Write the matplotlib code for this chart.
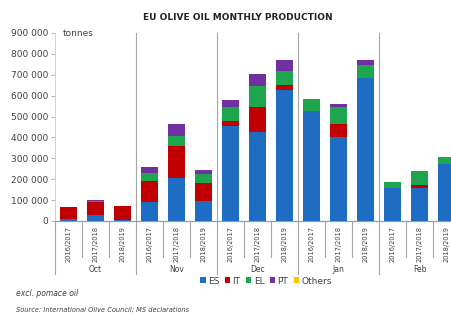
import numpy as np
import matplotlib
matplotlib.use("Agg")
import matplotlib.pyplot as plt
import matplotlib.transforms as mtransforms
from matplotlib.ticker import FuncFormatter

# === DATA (tonnes) ===
months = ["Oct", "Nov", "Dec", "Jan", "Feb"]
years = ["2016/2017", "2017/2018", "2018/2019"]
ES = [10000, 28000, 5000, 92000, 207000, 97000, 455000, 424000, 627000, 528000, 403000, 683000, 156000, 156000, 273000]
IT = [55000, 65000, 67000, 101000, 152000, 83000, 25000, 123000, 24000, 0, 61000, 0, 0, 16000, 0]
EL = [0, 3000, 0, 38000, 49000, 45000, 64000, 100000, 67000, 56000, 83000, 62000, 31000, 67000, 32000]
PT = [0, 4000, 0, 26000, 56000, 18000, 35000, 58000, 52000, 0, 14000, 25000, 0, 0, 0]
OTHERS = [0] * 15

series = [("ES", ES, "#1f6dc2"), ("IT", IT, "#c00000"), ("EL", EL, "#1ea64e"),
          ("PT", PT, "#7030a0"), ("Others", OTHERS, "#ffc000")]

GRAY = "#404040"
LINE = "#a6a6a6"

fig = plt.figure(figsize=(4.52, 3.15), dpi=100, facecolor="white")
ax = fig.add_axes([55 / 452, 1 - 221 / 315, 1 - 55 / 452, (221 - 33) / 315])

x = np.arange(len(ES))
bottom = np.zeros(len(ES))
for name, vals, col in series:
    v = np.array(vals, dtype=float)
    ax.bar(x, v, 0.63, bottom=bottom, color=col, label=name, zorder=3)
    bottom += v

ax.set_ylim(0, 900000)
ax.set_xlim(-0.5, 14.2)
ax.set_yticks(np.arange(0, 900001, 100000))
ax.yaxis.set_major_formatter(FuncFormatter(lambda v, p: f"{int(v):,}".replace(",", " ")))
ax.tick_params(axis="y", labelsize=6.5, labelcolor=GRAY, color=LINE, length=3, width=0.6, pad=2)
ax.set_xticks([])
for s in ["top", "right"]:
    ax.spines[s].set_visible(False)
ax.spines["left"].set_color("#d0d0d0")
ax.spines["left"].set_linewidth(0.7)
ax.spines["bottom"].set_color("#8fa0b5")
ax.spines["bottom"].set_linewidth(0.9)

# month separators in the plot area
for sep in [2.5, 5.5, 8.5, 11.5]:
    ax.axvline(sep, color=LINE, lw=0.8, zorder=1)

# multi-level category axis below the plot
tr = mtransforms.blended_transform_factory(ax.transData, ax.transAxes)
for i in range(len(ES)):
    ax.text(x[i], -0.025, years[i % 3], transform=tr, rotation=90, ha="center", va="top",
            fontsize=4.8, color=GRAY, clip_on=False)
for i in range(len(ES) + 1):
    pos = i - 0.5
    if pos > 14.2:
        continue
    low = -0.28 if i % 3 == 0 else -0.19
    ax.plot([pos, pos], [0, low], transform=tr, color=LINE, lw=0.8, clip_on=False)
for m, name in enumerate(months):
    ax.text(3 * m + 1, -0.26, name, transform=tr, ha="center", va="center",
            fontsize=5.5, color=GRAY, clip_on=False)

ax.text(0.02, 1.0, "tonnes", transform=ax.transAxes, fontsize=6.5, color=GRAY, va="center")

fig.text(238 / 452, 1 - 17 / 315, "EU OLIVE OIL MONTHLY PRODUCTION", ha="center", va="center",
         fontsize=6.5, fontweight="bold", color="#222222")

ax.legend(loc="center", bbox_to_anchor=(266 / 452, 1 - 281 / 315), bbox_transform=fig.transFigure,
          ncol=5, frameon=False, fontsize=6.5, handlelength=0.6, handleheight=0.6,
          handletextpad=0.25, columnspacing=0.6, labelcolor=GRAY)

fig.text(16 / 452, 1 - 294 / 315, "excl. pomace oil", fontsize=5.5, style="italic", color=GRAY, va="center")
fig.text(16 / 452, 1 - 310 / 315, "Source: International Olive Council; MS declarations",
         fontsize=4.8, style="italic", color=GRAY, va="center")

fig.savefig("out.png", dpi=100, facecolor="white")
